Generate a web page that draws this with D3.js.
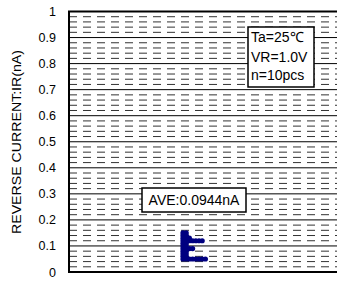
<!DOCTYPE html>
<html>
<head>
<meta charset="utf-8">
<script src="https://cdn.jsdelivr.net/npm/d3@7"></script>
<style>
  body { margin: 0; background: #fff; }
  svg { display: block; font-family: "Liberation Sans", Arial, sans-serif; }
</style>
</head>
<body>
<svg id="chart" width="337" height="285"></svg>
<script>
// measured values (nA), one entry per dot; equal values get stacked sideways
var readings = [
  0.15, 0.15,
  0.14, 0.14,
  0.13, 0.13, 0.13,
  0.12, 0.12, 0.12, 0.12, 0.12, 0.12, 0.12,
  0.11, 0.11,
  0.10, 0.10,
  0.09, 0.09, 0.09, 0.09,
  0.08, 0.08,
  0.07, 0.07,
  0.06, 0.06,
  0.05, 0.05, 0.05, 0.05, 0.05, 0.05, 0.05, 0.05
];
var yTicks = [0, 0.1, 0.2, 0.3, 0.4, 0.5, 0.6, 0.7, 0.8, 0.9, 1];
var minorTicks = d3.range(0, 1.0001, 0.02);
var condLines = ["Ta=25\u2103", "VR=1.0V", "n=10pcs"];
var aveLabel = "AVE:0.0944nA";
var yTitle = "REVERSE CURRENT:IR(nA)";

var svg = d3.select("#chart");
var plotL = 69, plotR = 337, plotT = 11.5, plotB = 272;

var y = d3.scaleLinear().domain([0, 1]).range([plotB, plotT]);
// dot column position inside the plot (stack index -> x)
var xStack = d3.scaleLinear().domain([0, 1]).range([183, 186.2]);

// minor dashed grid
svg.append("g").selectAll("line")
  .data(minorTicks.filter(function(d) { return Math.round(d * 50) % 5 != 0; }))
  .enter().append("line")
  .attr("x1", plotL).attr("x2", plotR)
  .attr("y1", function(d) { return y(d); })
  .attr("y2", function(d) { return y(d); })
  .attr("stroke", "#333")
  .attr("stroke-width", 1)
  .attr("stroke-dasharray", "8,6");

// major grid
svg.append("g").selectAll("line")
  .data(yTicks)
  .enter().append("line")
  .attr("x1", plotL).attr("x2", plotR)
  .attr("y1", function(d) { return y(d); })
  .attr("y2", function(d) { return y(d); })
  .attr("stroke", "#000")
  .attr("stroke-width", 1);

// frame (top, left, bottom)
svg.append("path")
  .attr("d", "M" + plotR + "," + plotT + "H" + plotL + "V" + plotB + "H" + plotR)
  .attr("fill", "none")
  .attr("stroke", "#000")
  .attr("stroke-width", 2);

// y axis labels, no tick marks
var yAxis = d3.axisLeft(y).tickValues(yTicks).tickSize(0).tickPadding(13)
  .tickFormat(function(d) { return d == 0 ? "0" : d == 1 ? "1" : d3.format(".1f")(d); });
var ag = svg.append("g").attr("transform", "translate(" + plotL + ",0)").call(yAxis);
ag.select(".domain").remove();
ag.selectAll("text").attr("font-size", 12.5).attr("fill", "#000")
  .attr("font-family", "Liberation Sans, Arial, sans-serif");

svg.append("text")
  .attr("transform", "translate(21," + 142 + ") rotate(-90)")
  .attr("text-anchor", "middle")
  .attr("font-size", 12)
  .attr("textLength", 184)
  .attr("lengthAdjust", "spacingAndGlyphs")
  .text(yTitle);

// dots
var seen = {};
var dots = readings.map(function(v) {
  var k = v.toFixed(3);
  seen[k] = (seen[k] || 0);
  var i = seen[k]++;
  return { v: v, i: i };
});
svg.append("g").selectAll("circle")
  .data(dots)
  .enter().append("circle")
  .attr("cx", function(d) { return xStack(d.i); })
  .attr("cy", function(d) { return y(d.v); })
  .attr("r", 2.6)
  .attr("fill", "#000080");

// condition box
var cb = svg.append("g");
cb.append("rect")
  .attr("x", 248).attr("y", 27).attr("width", 66).attr("height", 60)
  .attr("fill", "#fff").attr("stroke", "#000").attr("stroke-width", 1.5);
cb.selectAll("text").data(condLines).enter().append("text")
  .attr("x", 251)
  .attr("y", function(d, i) { return [42, 61.5, 80][i]; })
  .attr("font-size", 14)
  .text(function(d) { return d; });

// average box
var ab = svg.append("g");
ab.append("rect")
  .attr("x", 142).attr("y", 188).attr("width", 104).attr("height", 24)
  .attr("fill", "#fff").attr("stroke", "#000").attr("stroke-width", 1.5);
ab.append("text")
  .attr("x", 194).attr("y", 205)
  .attr("text-anchor", "middle")
  .attr("font-size", 14)
  .text(aveLabel);
</script>
</body>
</html>
